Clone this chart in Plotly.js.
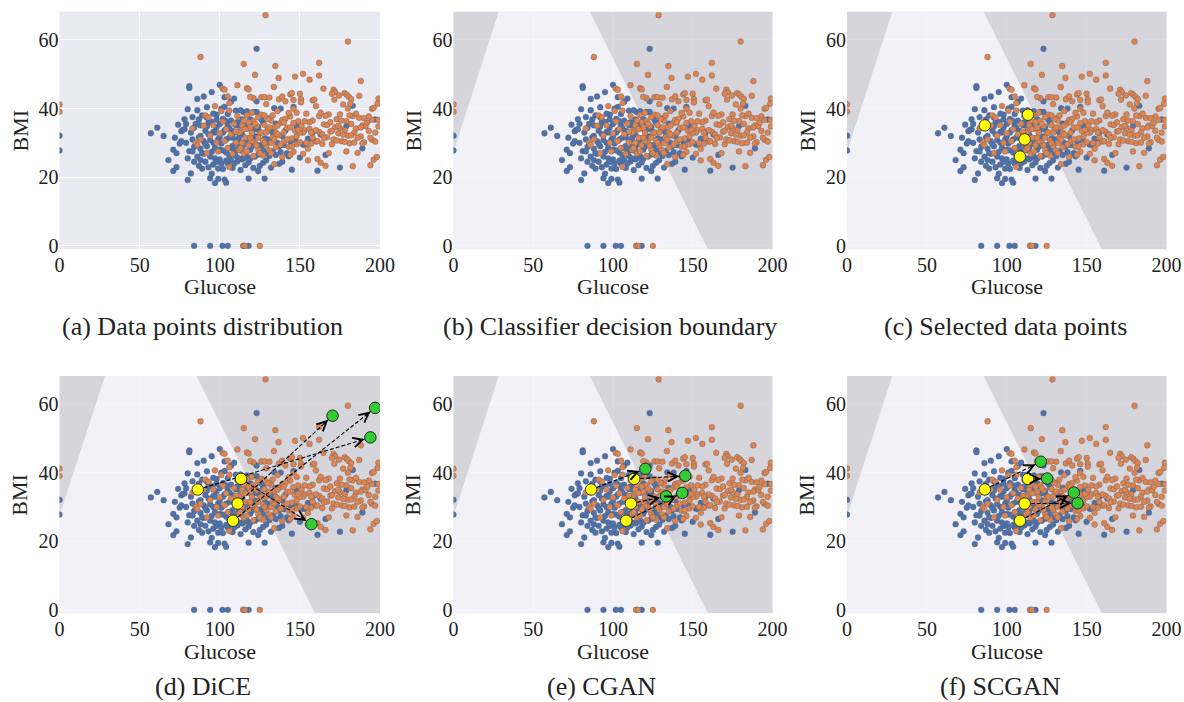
<!DOCTYPE html>
<html><head><meta charset="utf-8">
<script src="https://cdn.plot.ly/plotly-3.0.1.min.js"></script>
<style>body{margin:0;background:#fff}</style>
</head><body><div id="chart" style="width:1184px;height:702px"></div>
<script>
// ---------------- DATA ----------------
// class 0 (non-diabetic) points: [Glucose, BMI]
const class0Points = [
[0,32.1],[0,27.8],[84,0],[94,0],[101.7,0],[105,0],[114.8,0],[118,0],
[57,32.8],[61,34.4],[65,32],[68,25],[71,21.8],[71,28],[72,31.5],[73,22.9],[73,27],[74,35.3],[75,29.8],[76,33.4],
[77,33.8],[78,34],[78,36.9],[79,30],[80,25.5],[80,39.8],[80,19.2],[81,27.6],[81,46.5],[81,46],[82,21.1],[82,33],
[83,31],[83,37.5],[84,24.5],[84,34.4],[85,29.5],[85,35.5],[86,39.5],[86,26],[86,42.8],[87,31.6],[87,23.3],[88,28.3],
[88,35.1],[88,32],[89,38],[89,22.5],[90,30.5],[90,26.8],[90,43.5],[91,33.5],[91,24.5],[92,37.4],[92,29],[93,22.9],
[93,32.5],[93,36],[94,19.7],[94,26],[95,36.1],[95,21],[95,44.8],[96,23.7],[96,33.2],[96,30],[97,18.3],[97,28.5],
[97,25.5],[98,38.2],[98,24.5],[98,34.5],[99,19.5],[99,31],[100,35.5],[100,25.2],[100,46.9],[100,28],[101,40],[101,29.8],
[101,24],[102,22.4],[102,37],[103,19.3],[103,33.7],[103,43.3],[104,18.4],[104,27.2],[104,31],[105,24],[105,38.4],[105,35],
[106,31.5],[106,26.3],[107,25],[107,36.5],[107,42],[108,29.1],[108,22.7],[108,33.5],[109,33],[109,42.9],[109,27.5],[110,26.2],
[110,39.4],[110,30.5],[111,24.6],[111,30.8],[111,36],[112,35],[112,28.8],[113,27.8],[113,22.1],[113,33],[114,32.4],[114,25.2],
[115,38.9],[115,25.6],[115,30],[116,29.7],[116,35.8],[117,34.2],[117,26],[118,19.6],[118,24.3],[118,31.3],[119,36.9],[119,28],
[120,28.9],[120,33.5],[121,22.7],[121,39],[122,31.9],[122,26],[123,39],[123,42.1],[123,57.4],[124,21.8],[124,26.6],[124,34.6],
[125,33.2],[125,29.3],[126,28.4],[127,35.9],[127,24.2],[128,19.6],[128,31.3],[129,24.9],[130,31],[130,27],[131,37.1],[132,22.8],
[133,27.5],[133,33],[134,40.1],[135,35.6],[136,30],[137,23.9],[138,27.3],[138,40],[139,32],[140,29.4],[141,33.6],[142,27],
[143,26.1],[144,30.5],[145,22.2],[146,40.5],[147,30.8],[148,34.7],[150,25.7],[152,29.5],[153,29.5],[155,31.2],[157,30.1],[158,33],
[161,21.9],[163,32.4],[166,26.5],[175,22.8],[179,34.9],[183,40.8],[189,28.4],[197,36.8],
[84,28.8],[87,36.8],[89,27],[91,29.7],[92,34.8],[94,30.8],[95,27.4],[97,33],[98,36.8],[99,22.5],[100,31.8],[102,27.8],
[102,33],[104,36.3],[104,24.8],[106,28.5],[106,34.2],[108,31.6],[109,24],[110,35.2],[111,28],[112,31.5],[112,25.5],[114,36.8],
[114,28.7],[116,23.5],[117,31.2],[119,25.4],[120,36],[121,30.3],[122,34],[125,23.3],[126,36.8],[127,28],[129,29.5],[131,26.2],
[132,33.5],[135,26.5],[137,29],[139,24.5],[79,35.5],[76,30.5],[83,27.5],[88,25],[92,40.4],[96,38.5],[103,40.5],[113,39.5],[117,39.2]
];
// class 1 (diabetic) points: [Glucose, BMI]
const class1Points = [
[0,41.2],[0,39.1],[114.6,0],[115.7,0],[125,0],
[128.6,67.2],[180,59.5],[88,55],[115,53],[134.7,52.4],[162,53.3],[122,49.8],[152,50.1],[162,49.6],[156,48.4],[136.7,48.9],
[147,49.3],[188,48],[133.8,46.3],[101.7,45.8],[103,45.5],[111,46.8],[117,45.9],[118,45.6],[121,43],[119,43.4],[126,43.3],
[128,43.3],[131,43.2],[137,42.7],[139,43.5],[144,44.1],[145,44.5],[146,42.5],[150,44.3],[150.7,42.7],[150.7,41.8],[158,42.4],
[164.7,45.8],[171,45.5],[172,44.8],[174.5,43.8],[170,44.3],[171.5,42.6],[177.9,44.5],[179.3,44],[180.5,43.4],[182,42.8],
[181.5,41.4],[187,43.7],[195,39.9],[199,42.9],[198.5,41.4],[196,40.2],[105,43.5],[106,41.6],
[85,30],[86,29.4],[83,34.2],[88,31],[90,35],[91,38],[92,27],[93,37.4],[94,32.1],[96,35.1],[97,40.7],[98,30],[99,27.5],
[100,32.8],[101,39.3],[102,36.2],[103,30.5],[104,34],[105,28.5],[106,23],[106,39.4],[107,32.5],[108,26.8],[109,35.6],[110,30.1],
[111,37.8],[112,28],[113,33.4],[114,35.1],[115,26.9],[116,31.5],[117,38.1],[118,29.3],[119,34.3],[120,32.9],[121,26.2],[121,36.4],
[122,30],[123,34.9],[124,28],[125,32.8],[126,38.2],[127,30.7],[127,26.3],[128,35.2],[129,41.3],[129,29.1],[130,33.9],[131,27.8],
[132,36.5],[133,31.6],[134,23.8],[134,34.6],[135,28.7],[136,39.3],[137,32.2],[138,35.8],[139,25.9],[140,30.4],[141,42.1],[142,34.4],
[143,28.9],[144,37.7],[145,31.3],[146,27.4],[146,39.9],[147,33.5],[148,29.6],[149,36.3],[150,30.2],[151,35],[152,26.8],[153,33.7],
[154,38.5],[155,24.9],[156,34.1],[157,29.8],[158,36.5],[159,42.6],[160,30.4],[161,25.3],[162,37.8],[162,33.2],[163,24.2],[164,29.7],
[165,35.4],[166,23.3],[167,31.6],[168,38.3],[169,33.3],[170,29.6],[172,34.6],[173,36.9],[174,32.8],[175,34.3],[176,30.5],[177,41.2],
[178,33.7],[179,36.3],[180,40],[180,32.1],[181,29.9],[182,35.5],[183,23.2],[183,37.8],[184,30.1],[185,34.2],[186,27.1],[187,37.3],
[188,31.9],[189,35.1],[190,30.2],[191,34.9],[192,35.9],[193,33.5],[194,23.5],[195,36.7],[195,30.9],[196,25.1],[197,30.4],[198,25.9],
[199,34.8],[199,36.7],
[112,33],[114,30],[116,34],[118,36],[120,30.6],[122,35.5],[124,31.5],[126,33],[128,30],[130,37],[132,30],[134,31],[136,35],
[138,29.5],[140,33],[142,31],[144,34.5],[146,35.8],[148,31.9],[119,31.5],[123,29.2],[131,34.5],[135,33],[139,36.7],[143,38.7],
[113,28.5],[117,27.5],[125,27],[129,33],[133,38],[152,33],[154,30],[156,36],[160,33.7],[164,32.5],[166,37.9],[170,33.5],
[174,35],[178,30.3],[184,33],[188,34.5],
[150,33],[158,31.5],[163,38.8],[167,35.2],[171,31],[175,38.3],[179,27.5],[185,38.5],[189,29.8],[193,37.7],[197,33],[155,28.3],
[160,40.7],[168,27],[176,36.5],[182,32.2],[186,31.5],[190,37.2],[194,31.5],[141,37],[145,29],[149,33.8],[153,36.3],[157,33],
[161,30.5],[165,31.4],[169,36],[173,30.7],[177,32.4],[181,38],[110,33.3],[115,36.5],[120,38.8],[124,37.5],[128,38],[132,27],
[136,32.5],[140,36],[144,26.5],[148,38.8]
];
// selected (query) points
const selectedGlucose = [86.3, 113.3, 111.2, 108.3];
const selectedBMI     = [35.1, 38.2, 31.0, 26.0];
// counterfactuals (same order as the selected points)
const diceGlucose  = [194.0, 157.2, 170.4, 197.0];
const diceBMI      = [50.3, 25.0, 56.6, 58.9];
const cganGlucose  = [120.3, 145.3, 133.3, 143.4];
const cganBMI      = [41.1, 39.1, 33.1, 34.1];
const scganGlucose = [121.3, 125.3, 144.3, 142.0];
const scganBMI     = [43.2, 38.3, 31.1, 34.2];
// classifier decision boundary lines
const leftBoundaryGlucose  = [0, 28.3];
const leftBoundaryBMI      = [27.5, 68.2];
const rightBoundaryGlucose = [85.5, 159.5];
const rightBoundaryBMI     = [68.2, -1];
// axes
const xTicks = [0, 50, 100, 150, 200];
const yTicks = [0, 20, 40, 60];
const xRange = [0, 200];
const yRange = [-1, 68.2];
const captions = ["(a) Data points distribution", "(b) Classifier decision boundary", "(c) Selected data points",
                  "(d) DiCE", "(e) CGAN", "(f) SCGAN"];
const xTitle = "Glucose", yTitle = "BMI";

// ---------------- LAYOUT ----------------
const W = 1184, H = 702;
const boxes = [ // [left, right, top, bottom] in px
  [59.5, 380, 11.7, 249.3], [453.5, 772.5, 11.7, 249.3], [847, 1166.5, 11.7, 249.3],
  [59.5, 380, 376, 613.3], [453.5, 772.5, 376, 613.3], [847, 1166.5, 376, 613.3]];
const captionX = [202, 610, 1005, 203, 601, 1000];
const captionY = [326, 326, 326, 686, 686, 686];
const xTitleY = [287, 287, 287, 651, 651, 651];
const yTitleX = [20, 413, 807, 20, 413, 807];

const panels = [
  {region: false, sel: false, cf: null},
  {region: true, sel: false, cf: null},
  {region: true, sel: true, cf: null},
  {region: true, sel: true, cf: [diceGlucose, diceBMI]},
  {region: true, sel: true, cf: [cganGlucose, cganBMI]},
  {region: true, sel: true, cf: [scganGlucose, scganBMI]}
];

const serif = "'Liberation Serif', 'Times New Roman', serif";
const blue = "#4C72B0", orange = "#DD8452";
const traces = [], annotations = [];
const layout = {
  width: W, height: H, margin: {l: 0, r: 0, t: 0, b: 0},
  paper_bgcolor: "#ffffff", plot_bgcolor: "#EAEAF2", showlegend: false,
  hovermode: false, annotations: annotations, font: {family: serif, color: "#222"}
};

panels.forEach((p, i) => {
  const k = i === 0 ? "" : String(i + 1);
  const xa = "x" + k, ya = "y" + k;
  const [l, r, t, b] = boxes[i];
  const axCommon = {showgrid: true, gridcolor: "#ffffff", gridwidth: 1.1, zeroline: false, showline: false,
    ticks: "", tickfont: {family: serif, size: 20, color: "#222"}, fixedrange: true};
  layout["xaxis" + k] = Object.assign({}, axCommon, {domain: [l / W, r / W], anchor: ya, range: xRange,
    tickmode: "array", tickvals: xTicks, ticktext: xTicks.map(String), ticklabelstandoff: 2});
  layout["yaxis" + k] = Object.assign({}, axCommon, {domain: [1 - b / H, 1 - t / H], anchor: xa, range: yRange,
    tickmode: "array", tickvals: yTicks, ticktext: yTicks.map(String)});

  if (p.region) {
    const xl = xRange[0] - 2, xr = xRange[1] + 2, yb = yRange[0] - 2;
    // light (class 0) band
    traces.push({type: "scatter", mode: "lines", xaxis: xa, yaxis: ya, fill: "toself",
      fillcolor: "rgba(243,243,248,0.74)", line: {width: 0},
      x: [xRange[0], xRange[0], leftBoundaryGlucose[1], rightBoundaryGlucose[0], rightBoundaryGlucose[1], xRange[0]],
      y: [yb, leftBoundaryBMI[0], leftBoundaryBMI[1], rightBoundaryBMI[0], rightBoundaryBMI[1], yb]});
    // dark (class 1) left wedge
    traces.push({type: "scatter", mode: "lines", xaxis: xa, yaxis: ya, fill: "toself",
      fillcolor: "rgba(206,206,211,0.75)", line: {width: 0},
      x: [xl, leftBoundaryGlucose[0], leftBoundaryGlucose[1], xl],
      y: [leftBoundaryBMI[0], leftBoundaryBMI[0], leftBoundaryBMI[1], leftBoundaryBMI[1]]});
    // dark (class 1) right region
    traces.push({type: "scatter", mode: "lines", xaxis: xa, yaxis: ya, fill: "toself",
      fillcolor: "rgba(206,206,211,0.75)", line: {width: 0},
      x: [rightBoundaryGlucose[0], rightBoundaryGlucose[1], xr, xr],
      y: [rightBoundaryBMI[0], rightBoundaryBMI[1], rightBoundaryBMI[1], rightBoundaryBMI[0]]});
  }
  const mk = c => ({color: c, size: 5.8, line: {color: "rgba(90,90,90,0.75)", width: 0.5}});
  traces.push({type: "scatter", mode: "markers", xaxis: xa, yaxis: ya, cliponaxis: true,
    x: class0Points.map(d => d[0]), y: class0Points.map(d => d[1]), marker: mk(blue)});
  traces.push({type: "scatter", mode: "markers", xaxis: xa, yaxis: ya, cliponaxis: true,
    x: class1Points.map(d => d[0]), y: class1Points.map(d => d[1]), marker: mk(orange)});

  if (p.cf) {
    const [cg, cb] = p.cf;
    const pxX = (r - l) / (xRange[1] - xRange[0]);
    const pxY = (b - t) / (yRange[1] - yRange[0]);
    selectedGlucose.forEach((sg, j) => {
      traces.push({type: "scatter", mode: "lines", xaxis: xa, yaxis: ya,
        x: [sg, cg[j]], y: [selectedBMI[j], cb[j]],
        line: {color: "#000", width: 1.1, dash: "4px,2px"}});
      const dx = (cg[j] - sg) * pxX, dy = -(cb[j] - selectedBMI[j]) * pxY;
      const len = Math.hypot(dx, dy);
      annotations.push({x: cg[j], y: cb[j], xref: xa, yref: ya, axref: "pixel", ayref: "pixel",
        ax: -dx / len * 14, ay: -dy / len * 14, text: "", showarrow: true,
        arrowhead: 5, arrowsize: 2.1, arrowwidth: 0.9, arrowcolor: "#000", standoff: 6});
    });
  }
  if (p.sel) {
    traces.push({type: "scatter", mode: "markers", xaxis: xa, yaxis: ya,
      x: selectedGlucose, y: selectedBMI,
      marker: {color: "#FFFF00", size: 11.5, line: {color: "#333", width: 1}}});
  }
  if (p.cf) {
    traces.push({type: "scatter", mode: "markers", xaxis: xa, yaxis: ya,
      x: p.cf[0], y: p.cf[1],
      marker: {color: "#33CC33", size: 11.5, line: {color: "#222", width: 1}}});
  }
  // titles and captions
  annotations.push({xref: "paper", yref: "paper", x: (l + r) / 2 / W, y: 1 - xTitleY[i] / H,
    text: xTitle, showarrow: false, xanchor: "center", yanchor: "middle",
    font: {family: serif, size: 22, color: "#222"}});
  annotations.push({xref: "paper", yref: "paper", x: yTitleX[i] / W, y: 1 - (t + b) / 2 / H,
    text: yTitle, showarrow: false, xanchor: "center", yanchor: "middle", textangle: -90,
    font: {family: serif, size: 22, color: "#222"}});
  annotations.push({xref: "paper", yref: "paper", x: captionX[i] / W, y: 1 - captionY[i] / H,
    text: captions[i], showarrow: false, xanchor: "center", yanchor: "middle",
    font: {family: serif, size: 26, color: "#222"}});
});

Plotly.newPlot("chart", traces, layout, {staticPlot: true, displayModeBar: false});
</script></body></html>
